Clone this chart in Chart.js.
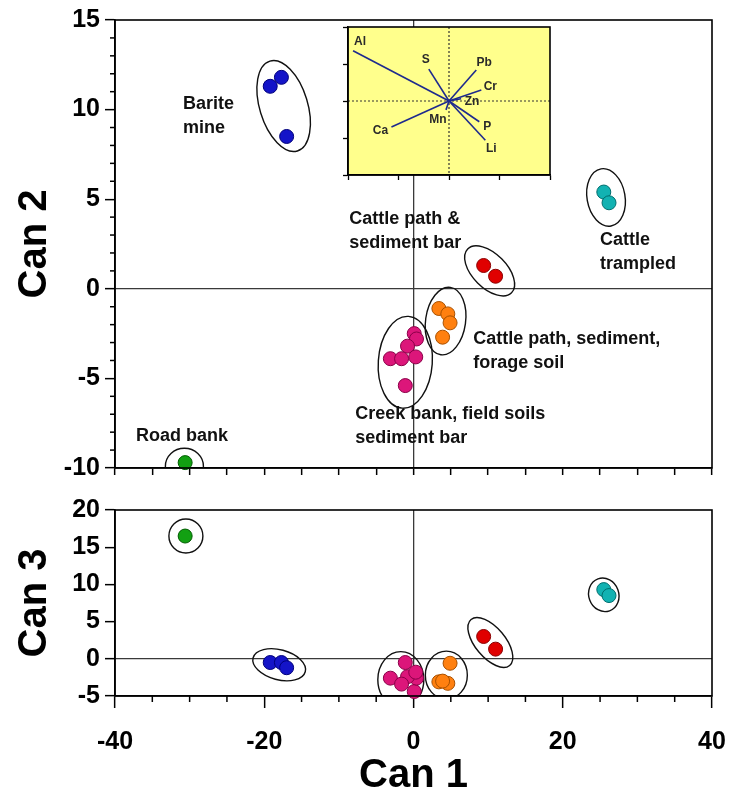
<!DOCTYPE html>
<html>
<head>
<meta charset="utf-8">
<script src="https://cdn.jsdelivr.net/npm/chart.js@4.4.0/dist/chart.umd.min.js"></script>
<style>
  body { margin: 0; background: #fff; overflow: hidden; }
  #wrap { position: relative; width: 732px; height: 804px; }
  .box { position: absolute; }
</style>
</head>
<body>
<div id="wrap">
  <div class="box" style="left:0;top:0;width:732px;height:482px"><canvas id="can2"></canvas></div>
  <div class="box" style="left:0;top:482px;width:732px;height:322px"><canvas id="can3"></canvas></div>
  <div class="box" style="left:336px;top:20px;width:226px;height:168px"><canvas id="loadings"></canvas></div>
</div>
<script>
// groups of samples (one entry per group in every array below)
const groupNames = ['Barite mine', 'Cattle trampled', 'Cattle path & sediment bar',
  'Cattle path, sediment, forage soil', 'Creek bank, field soils, sediment bar', 'Road bank'];
const can1 = [
  [-19.2, -17.7, -17.0],
  [25.5, 26.2],
  [9.4, 11.0],
  [3.4, 4.6, 4.9, 3.9],
  [0.1, 0.4, -0.8, -3.1, -1.6, 0.3, -1.1],
  [-30.6]
];
const can2 = [
  [11.3, 11.8, 8.5],
  [5.4, 4.8],
  [1.3, 0.7],
  [-1.1, -1.4, -1.9, -2.7],
  [-2.5, -2.8, -3.2, -3.9, -3.9, -3.8, -5.4],
  [-9.7]
];
const can3 = [
  [-0.5, -0.5, -1.2],
  [9.3, 8.5],
  [3.0, 1.3],
  [-3.1, -3.3, -0.6, -3.0],
  [-4.4, -2.6, -2.4, -2.6, -3.4, -1.8, -0.5],
  [16.5]
];

// loadings shown in the inset biplot
const loadingNames = ['Al', 'S', 'Pb', 'Cr', 'Zn', 'Mn', 'P', 'Li', 'Ca'];
const loadingX = [-0.95, -0.20, 0.27, 0.32, 0.12, -0.03, 0.30, 0.36, -0.57];
const loadingY = [0.68, 0.43, 0.42, 0.15, 0.03, -0.12, -0.28, -0.53, -0.35];

// styles
const groupColors = ['#1414c8', '#12b2b2', '#e00000', '#ff8010', '#dc167a', '#12a012'];
const groupEdges = ['#00007a', '#006e6e', '#8a0000', '#a85000', '#8a0048', '#005c00'];
const loadingLabelOffset = [[7, -9], [-3, -9], [8, -7], [9, -3], [11, 3], [-8, 10], [8, 5], [6, 8], [-11, 4]];
const FONT = "'Liberation Sans', Arial, sans-serif";

// enclosing rings: centre in data units, radii in px, rotation in degrees
const ringsCan2 = [
  { x: -17.4, y: 10.2, rx: 24, ry: 47, rot: -17 },
  { x: 25.8, y: 5.1, rx: 19, ry: 29, rot: -10 },
  { x: 10.2, y: 1.0, rx: 17, ry: 31, rot: -45 },
  { x: 4.3, y: -1.8, rx: 20, ry: 34, rot: 8 },
  { x: -1.1, y: -4.1, rx: 27, ry: 46, rot: 4 },
  { x: -30.7, y: -9.9, rx: 19, ry: 18, rot: 0 }
];
const ringsCan3 = [
  { x: -18.0, y: -0.8, rx: 27, ry: 15, rot: 15 },
  { x: 25.5, y: 8.6, rx: 15, ry: 17, rot: -20 },
  { x: 10.3, y: 2.2, rx: 15, ry: 30, rot: -40 },
  { x: 4.4, y: -2.2, rx: 21, ry: 24, rot: 0 },
  { x: -1.7, y: -2.8, rx: 23, ry: 28, rot: 0 },
  { x: -30.5, y: 16.5, rx: 17, ry: 17, rot: 0 }
];
const notesCan2 = [
  { lines: ['Barite', 'mine'], x: -30.9, y: 10.3 },
  { lines: ['Cattle path &', 'sediment bar'], x: -8.6, y: 3.9 },
  { lines: ['Cattle', 'trampled'], x: 25.0, y: 2.7 },
  { lines: ['Cattle path, sediment,', 'forage soil'], x: 8.0, y: -2.8 },
  { lines: ['Creek bank, field soils', 'sediment bar'], x: -7.8, y: -7.0 },
  { lines: ['Road bank'], x: -37.2, y: -8.2 }
];

function groupDatasets(ys) {
  return groupNames.map((name, g) => ({
    label: name,
    data: can1[g].map((x, i) => ({ x: x, y: ys[g][i] })),
    pointRadius: 7,
    pointHoverRadius: 7,
    pointBackgroundColor: groupColors[g],
    pointBorderColor: groupEdges[g],
    pointBorderWidth: 1,
    clip: false
  }));
}

const frame = {
  id: 'frame',
  afterDraw(chart) {
    const a = chart.chartArea, ctx = chart.ctx;
    ctx.save();
    ctx.strokeStyle = '#000';
    ctx.lineWidth = 1.6;
    ctx.strokeRect(a.left, a.top, a.right - a.left, a.bottom - a.top);
    ctx.restore();
  }
};

const minorTicks = {
  id: 'minorTicks',
  afterDraw(chart, args, opts) {
    const ctx = chart.ctx;
    ctx.save();
    ctx.strokeStyle = '#000';
    ctx.lineWidth = 1.5;
    (opts.axes || []).forEach(a => {
      const s = chart.scales[a.id];
      const n = Math.round((s.max - s.min) / a.step);
      for (let k = 0; k <= n; k++) {
        const v = s.min + k * a.step;
        if (Math.abs(v % a.skip) < 1e-9) continue;
        const p = s.getPixelForValue(v);
        ctx.beginPath();
        if (s.isHorizontal()) { ctx.moveTo(p, s.top); ctx.lineTo(p, s.top + a.len); }
        else { ctx.moveTo(s.right, p); ctx.lineTo(s.right - a.len, p); }
        ctx.stroke();
      }
    });
    ctx.restore();
  }
};

const rings = {
  id: 'rings',
  beforeDatasetsDraw(chart, args, opts) {
    const a = chart.chartArea, ctx = chart.ctx;
    const xs = chart.scales.x, ys = chart.scales.y;
    ctx.save();
    ctx.beginPath();
    ctx.rect(a.left, a.top, a.right - a.left, a.bottom - a.top);
    ctx.clip();
    ctx.strokeStyle = '#111';
    ctx.lineWidth = 1.4;
    (opts.list || []).forEach(r => {
      ctx.beginPath();
      ctx.ellipse(xs.getPixelForValue(r.x), ys.getPixelForValue(r.y), r.rx, r.ry, r.rot * Math.PI / 180, 0, Math.PI * 2);
      ctx.stroke();
    });
    ctx.restore();
  }
};

const notes = {
  id: 'notes',
  afterDatasetsDraw(chart, args, opts) {
    const ctx = chart.ctx;
    const xs = chart.scales.x, ys = chart.scales.y;
    ctx.save();
    ctx.fillStyle = '#111';
    ctx.font = 'bold 18px ' + FONT;
    ctx.textAlign = 'left';
    ctx.textBaseline = 'middle';
    (opts.list || []).forEach(n => {
      const px = xs.getPixelForValue(n.x), py = ys.getPixelForValue(n.y);
      n.lines.forEach((t, i) => ctx.fillText(t, px, py + i * 24));
    });
    ctx.restore();
  }
};

function zeroLine(c) {
  return c.tick && c.tick.value === 0 ? '#3a3a3a' : 'rgba(0,0,0,0)';
}

// fixed axis boxes so both panels line up; label overhang is not allowed to shrink the plot
function fixWidth(w) {
  return s => { s.width = w; s.paddingTop = 0; s.paddingBottom = 0; };
}
function fixHeight(h) {
  return s => { s.height = h; s.paddingLeft = 0; s.paddingRight = 0; };
}

const tickFont = { family: FONT, size: 25, weight: 'bold' };
const titleFont = { family: FONT, size: 40, weight: 'bold' };

// upper panel: Can 2 against Can 1
new Chart(document.getElementById('can2'), {
  type: 'scatter',
  data: { datasets: groupDatasets(can2) },
  options: {
    responsive: true, maintainAspectRatio: false, animation: false,
    layout: { padding: { top: 20, right: 20, left: 0, bottom: 0 } },
    plugins: {
      legend: { display: false }, tooltip: { enabled: false },
      minorTicks: { axes: [{ id: 'y', step: 1, skip: 5, len: 5 }] },
      rings: { list: ringsCan2 },
      notes: { list: notesCan2 }
    },
    scales: {
      x: {
        min: -40, max: 40,
        ticks: { display: false, stepSize: 5 },
        grid: { color: zeroLine, lineWidth: 1.3, tickLength: 7, tickColor: '#000', tickWidth: 1.5 },
        border: { color: '#000', width: 1.6 },
        afterFit: fixHeight(14)
      },
      y: {
        min: -10, max: 15,
        ticks: { stepSize: 5, color: '#000', font: tickFont, padding: 5 },
        grid: { color: zeroLine, lineWidth: 1.3, tickLength: 10, tickColor: '#000', tickWidth: 1.5 },
        border: { color: '#000', width: 1.6 },
        title: { display: true, text: 'Can 2', color: '#000', font: titleFont, padding: { top: 11 } },
        afterFit: fixWidth(115)
      }
    }
  },
  plugins: [rings, notes, minorTicks, frame]
});

// lower panel: Can 3 against Can 1
new Chart(document.getElementById('can3'), {
  type: 'scatter',
  data: { datasets: groupDatasets(can3) },
  options: {
    responsive: true, maintainAspectRatio: false, animation: false,
    layout: { padding: { top: 28, right: 20, left: 0, bottom: 0 } },
    plugins: {
      legend: { display: false }, tooltip: { enabled: false },
      minorTicks: { axes: [{ id: 'x', step: 5, skip: 20, len: 6 }] },
      rings: { list: ringsCan3 }
    },
    scales: {
      x: {
        min: -40, max: 40,
        ticks: { stepSize: 20, color: '#000', font: tickFont, padding: 19 },
        grid: { color: zeroLine, lineWidth: 1.3, tickLength: 12, tickColor: '#000', tickWidth: 1.5 },
        border: { color: '#000', width: 1.6 },
        title: { display: true, text: 'Can 1', color: '#000', font: titleFont, padding: { bottom: 4 } },
        afterFit: fixHeight(108)
      },
      y: {
        min: -5, max: 20,
        ticks: { stepSize: 5, color: '#000', font: tickFont, padding: 5 },
        grid: { color: zeroLine, lineWidth: 1.3, tickLength: 10, tickColor: '#000', tickWidth: 1.5 },
        border: { color: '#000', width: 1.6 },
        title: { display: true, text: 'Can 3', color: '#000', font: titleFont, padding: { top: 11 } },
        afterFit: fixWidth(115)
      }
    }
  },
  plugins: [rings, minorTicks, frame]
});

// inset: loading vectors
const insetBg = {
  id: 'insetBg',
  beforeDraw(chart) {
    const a = chart.chartArea, ctx = chart.ctx;
    ctx.save();
    ctx.fillStyle = '#ffff8c';
    ctx.fillRect(a.left, a.top, a.right - a.left, a.bottom - a.top);
    ctx.restore();
  }
};
const crosshair = {
  id: 'crosshair',
  beforeDatasetsDraw(chart) {
    const a = chart.chartArea, ctx = chart.ctx;
    const px = chart.scales.x.getPixelForValue(0), py = chart.scales.y.getPixelForValue(0);
    ctx.save();
    ctx.strokeStyle = '#333';
    ctx.lineWidth = 1.2;
    ctx.setLineDash([2, 2]);
    ctx.beginPath();
    ctx.moveTo(px, a.top); ctx.lineTo(px, a.bottom);
    ctx.moveTo(a.left, py); ctx.lineTo(a.right, py);
    ctx.stroke();
    ctx.restore();
  }
};
const loadingLabels = {
  id: 'loadingLabels',
  afterDatasetsDraw(chart) {
    const ctx = chart.ctx;
    const xs = chart.scales.x, ys = chart.scales.y;
    ctx.save();
    ctx.fillStyle = '#2a2a2a';
    ctx.font = 'bold 12px ' + FONT;
    ctx.textAlign = 'center';
    ctx.textBaseline = 'middle';
    loadingNames.forEach((n, i) => {
      ctx.fillText(n, xs.getPixelForValue(loadingX[i]) + loadingLabelOffset[i][0],
        ys.getPixelForValue(loadingY[i]) + loadingLabelOffset[i][1]);
    });
    ctx.restore();
  }
};

const insetAxis = (size) => ({
  min: -1, max: 1,
  ticks: { display: false, stepSize: 0.5 },
  grid: { drawOnChartArea: false, tickLength: 5, tickColor: '#000', tickWidth: 1.3 },
  border: { color: '#000', width: 1.5 },
  afterFit: size
});

new Chart(document.getElementById('loadings'), {
  type: 'scatter',
  data: {
    datasets: loadingNames.map((n, i) => ({
      label: n,
      data: [{ x: 0, y: 0 }, { x: loadingX[i], y: loadingY[i] }],
      showLine: true,
      borderColor: '#1e2a8e',
      borderWidth: 1.6,
      pointRadius: 0
    }))
  },
  options: {
    responsive: true, maintainAspectRatio: false, animation: false,
    layout: { padding: { top: 7, right: 12, left: 0, bottom: 0 } },
    plugins: { legend: { display: false }, tooltip: { enabled: false } },
    scales: {
      x: insetAxis(fixHeight(13)),
      y: insetAxis(fixWidth(12))
    }
  },
  plugins: [insetBg, crosshair, loadingLabels, frame]
});
</script>
</body>
</html>
